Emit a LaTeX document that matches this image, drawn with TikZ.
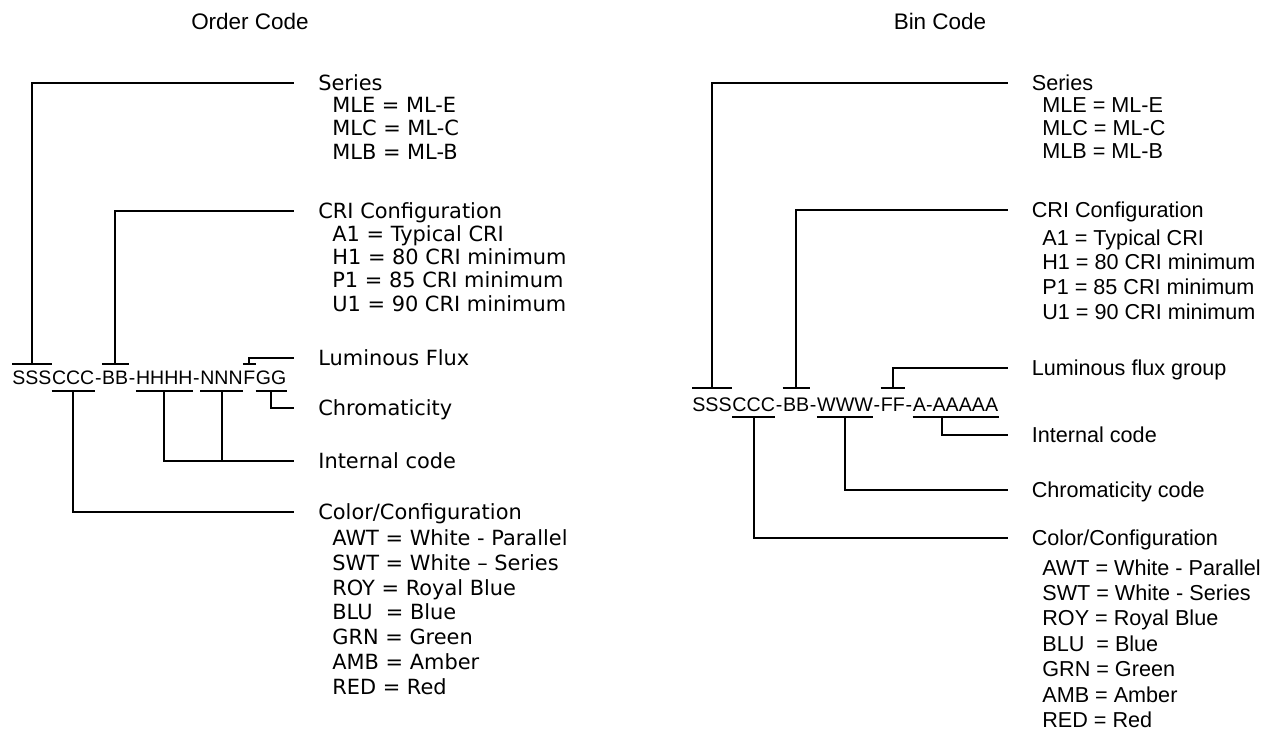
\documentclass[tikz,border=0pt]{standalone}
\usepackage{fontspec}
\setmainfont{Liberation Sans}
\newfontfamily\wideface{DejaVu Sans}
\usetikzlibrary{calc}

\tikzset{
  conn/.style={line width=0.04cm},
  headline/.style={font=\fontsize{12.8}{15}\selectfont, inner sep=0pt},
  codeL/.style={font=\fontsize{11.1}{13}\selectfont, inner sep=0pt, text height=0.42cm, text depth=0.12cm, anchor=base west},
  codeR/.style={font=\fontsize{11.2}{13}\selectfont, inner sep=0pt, text height=0.48cm, text depth=0.10cm, anchor=base west},
  lblL/.style={font=\wideface\fontsize{11.9}{13}\selectfont, anchor=west, inner xsep=0.48cm, inner ysep=0pt, text height=0.3cm, text depth=0pt},
  lblR/.style={font=\fontsize{12.3}{14}\selectfont, anchor=west, inner xsep=0.47cm, inner ysep=0pt, text height=0.31cm, text depth=0pt},
}

\begin{document}
\begin{tikzpicture}[x=0.02cm, y=-0.02cm]
  \useasboundingbox (0,0) rectangle (1265,736);

  % Titles
  \node[headline] (orderTitle) at (250,21) {Order Code};
  \node[headline] (binTitle) at (940,21) {Bin Code};

  % ---------------- Order code ----------------
  \node[codeL] (oSSS) at (12,385) {SSS};
  \node[codeL] (oCCC) at (oSSS.base east) {CCC};
  \node[codeL] (oDa) at (oCCC.base east) {-};
  \node[codeL] (oBB) at (oDa.base east) {BB};
  \node[codeL] (oDb) at (oBB.base east) {-};
  \node[codeL] (oHHHH) at (oDb.base east) {HHHH};
  \node[codeL] (oDc) at (oHHHH.base east) {-};
  \node[codeL] (oNNN) at (oDc.base east) {NNN};
  \node[codeL] (oF) at (oNNN.base east) {F};
  \node[codeL] (oGG) at (oF.base east) {GG};

  % Labels of order code
  \node[lblL] (oSeries) at (294,83) {Series};
  \node[lblL] (oCRI) at (294,211) {CRI Configuration};
  \node[lblL] (oFlux) at (294,358) {Luminous Flux};
  \node[lblL] (oChroma) at (294,408) {Chromaticity};
  \node[lblL] (oInternal) at (294,461) {Internal code};
  \node[lblL] (oColor) at (294,512) {Color/Configuration};

  \node[font=\wideface\fontsize{11.9}{13.3}\selectfont, align=left, anchor=north west, inner sep=0pt] (oSeriesList) at (332,97)
    {MLE = ML-E\\MLC = ML-C\\MLB = ML-B};
  \node[font=\wideface\fontsize{11.9}{13.3}\selectfont, align=left, anchor=north west, inner sep=0pt] (oCRIList) at (332,225)
    {A1 = Typical CRI\\H1 = 80 CRI minimum\\P1 = 85 CRI minimum\\U1 = 90 CRI minimum};
  \node[font=\wideface\fontsize{11.9}{14.17}\selectfont, align=left, anchor=north west, inner sep=0pt] (oColorList) at (332,529)
    {AWT = White - Parallel\\SWT = White – Series\\ROY = Royal Blue\\BLU\ \ = Blue\\GRN = Green\\AMB = Amber\\RED = Red};

  % Drawing marks above the code
  \draw[conn] (oSSS.north west) -- (oSSS.north east);
  \draw[conn] (oSSS.north) |- (oSeries.west);
  \draw[conn] (oBB.north west) -- (oBB.north east);
  \draw[conn] (oBB.north) |- (oCRI.west);
  \draw[conn] (oF.north west) -- (oF.north east);
  \draw[conn] (oF.north) |- (oFlux.west);

  % Drawing marks below the code
  \draw[conn] (oCCC.south west) -- (oCCC.south east);
  \draw[conn] (oCCC.south) |- (oColor.west);
  \draw[conn] (oHHHH.south west) -- (oHHHH.south east);
  \draw[conn] (oHHHH.south) |- (oInternal.west);
  \draw[conn] (oNNN.south west) -- (oNNN.south east);
  \draw[conn] (oNNN.south) -- (oNNN.south |- oInternal.west);
  \draw[conn] (oGG.south west) -- (oGG.south east);
  \draw[conn] (oGG.south) |- (oChroma.west);

  % ---------------- Bin code ----------------
  \node[codeR] (bSSS) at (692,412) {SSS};
  \node[codeR] (bCCC) at (bSSS.base east) {CCC};
  \node[codeR] (bDa) at (bCCC.base east) {-};
  \node[codeR] (bBB) at (bDa.base east) {BB};
  \node[codeR] (bDb) at (bBB.base east) {-};
  \node[codeR] (bWWW) at (bDb.base east) {WWW};
  \node[codeR] (bDc) at (bWWW.base east) {-};
  \node[codeR] (bFF) at (bDc.base east) {FF};
  \node[codeR] (bDd) at (bFF.base east) {-};
  \node[codeR] (bAint) at (bDd.base east) {A-AAAAA};

  % Labels of bin code
  \node[lblR] (bSeries) at (1008,83) {Series};
  \node[lblR] (bCRI) at (1008,210) {CRI Configuration};
  \node[lblR] (bFlux) at (1008,368) {Luminous flux group};
  \node[lblR] (bInternal) at (1008,435) {Internal code};
  \node[lblR] (bChroma) at (1008,490) {Chromaticity code};
  \node[lblR] (bColor) at (1008,538) {Color/Configuration};

  \node[font=\fontsize{12.3}{13.04}\selectfont, align=left, anchor=north west, inner sep=0pt] (bSeriesList) at (1042,97)
    {MLE = ML-E\\MLC = ML-C\\MLB = ML-B};
  \node[font=\fontsize{12.3}{14.17}\selectfont, align=left, anchor=north west, inner sep=0pt] (bCRIList) at (1042,229)
    {A1 = Typical CRI\\H1 = 80 CRI minimum\\P1 = 85 CRI minimum\\U1 = 90 CRI minimum};
  \node[font=\fontsize{12.3}{14.46}\selectfont, align=left, anchor=north west, inner sep=0pt] (bColorList) at (1042,559)
    {AWT = White - Parallel\\SWT = White - Series\\ROY = Royal Blue\\BLU\ \ = Blue\\GRN = Green\\AMB = Amber\\RED = Red};

  % Drawing marks above the code
  \draw[conn] (bSSS.north west) -- (bSSS.north east);
  \draw[conn] (bSSS.north) |- (bSeries.west);
  \draw[conn] (bBB.north west) -- (bBB.north east);
  \draw[conn] (bBB.north) |- (bCRI.west);
  \draw[conn] (bFF.north west) -- (bFF.north east);
  \draw[conn] (bFF.north) |- (bFlux.west);

  % Drawing marks below the code
  \draw[conn] (bCCC.south west) -- (bCCC.south east);
  \draw[conn] (bCCC.south) |- (bColor.west);
  \draw[conn] (bWWW.south west) -- (bWWW.south east);
  \draw[conn] (bWWW.south) |- (bChroma.west);
  \draw[conn] (bAint.south west) -- (bAint.south east);
  \draw[conn] ($(bAint.south west)!0.34!(bAint.south east)$) |- (bInternal.west);
\end{tikzpicture}
\end{document}
